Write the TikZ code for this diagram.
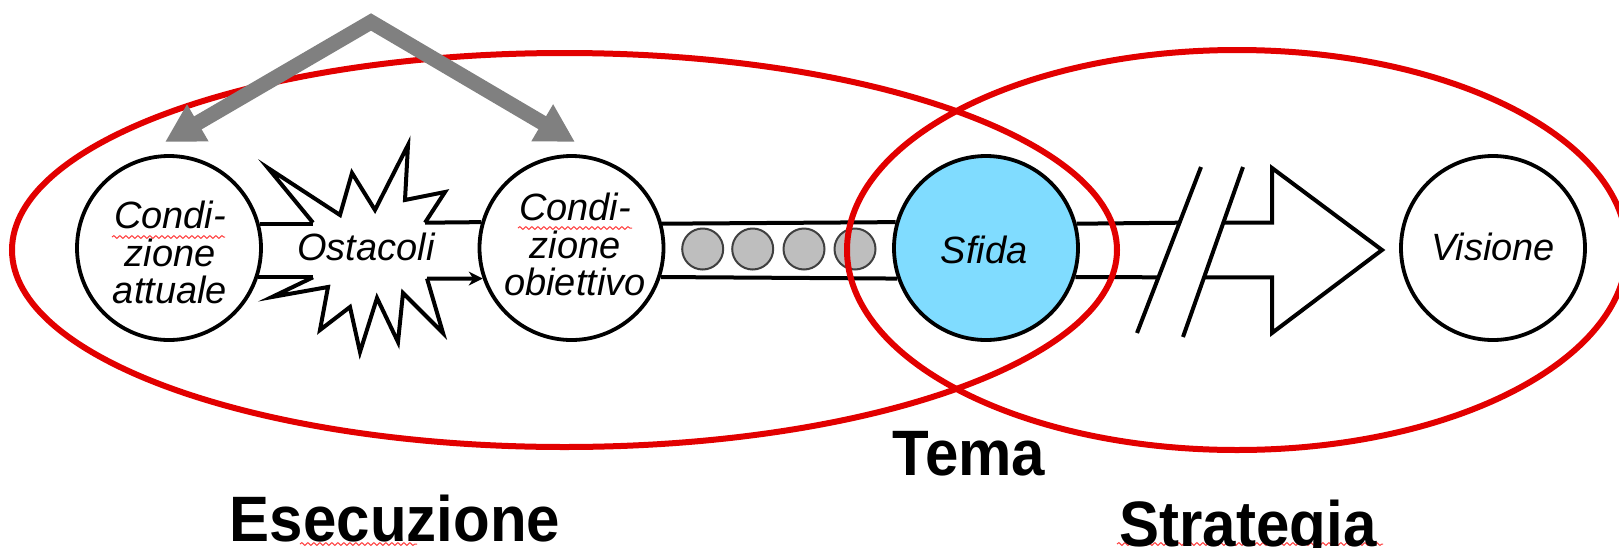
\documentclass[tikz,border=0pt]{standalone}
\usepackage{fontspec}
\setmainfont{Liberation Sans}
\usetikzlibrary{arrows.meta,decorations.pathmorphing}
\definecolor{ered}{RGB}{226,0,0}
\definecolor{sky}{RGB}{128,220,255}
\definecolor{dotgrey}{RGB}{190,190,190}
\definecolor{arrgrey}{RGB}{128,128,128}
\begin{document}
\begin{tikzpicture}[x=0.5pt,y=-0.5pt,
  circ/.style={circle,draw=black,line width=1.9pt,minimum size=92pt,inner sep=0pt,fill=white},
  lab/.style={font=\fontsize{19}{18.75}\selectfont\itshape,inner sep=0pt,align=center},
  big/.style={font=\fontsize{30}{30}\selectfont\bfseries,inner sep=0pt},
  band/.style={line width=2pt},
  dotc/.style={circle,draw=black!75,fill=dotgrey,line width=1pt,minimum size=20.5pt,inner sep=0pt},
  ring/.style={draw=ered,line width=3pt},
  spell/.style={draw=red!75,line width=0.5pt,decorate,decoration={snake,segment length=3pt,amplitude=0.7pt}},
  garrow/.style={draw=arrgrey,line width=7.5pt,{Triangle[length=19pt,width=20pt]}-{Triangle[length=19pt,width=20pt]}}
]
\fill[white] (0,0) rectangle (1619,547);
\useasboundingbox (0,0) rectangle (1619,547);

% circles
\node[circ] (C1) at (169,248) {};
\node[circ] (C2) at (571.5,248) {};
\node[circ,fill=sky] (S) at (986,248) {};
\node[circ] (V) at (1493,248) {};

% dots
\node[dotc] (d1) at (702.7,249) {};
\node[dotc] (d2) at (752.7,249) {};
\node[dotc] (d3) at (804,249) {};
\node[dotc] (d4) at (855,249) {};

% starburst
\coordinate (sbU0) at (313,222.7);
\coordinate (sbU8) at (425,222.7);
\coordinate (sbL0) at (313,277.3);
\coordinate (sbL10) at (427,278.5);
\draw[band,line join=miter] (sbU0) -- (268,168) -- (340,215) -- (352,173) -- (375,210) -- (408,145) -- (405,200) -- (445,192) -- (sbU8);
\draw[band,line join=miter] (sbL0) -- (272,297) -- (328,287) -- (320,330) -- (350,307) -- (360,352) -- (377,298) -- (398,342) -- (403,293) -- (443,333) -- (sbL10);

% bands C1 - C2
\draw[band] (C1.15.6) -- (C1.15.6 -| sbU0);
\draw[band] (C1.-18.2) -- (C1.-18.2 -| sbL0);
\draw[band] (sbU8) -- (C2.164.4);
\draw[band,-{Stealth[length=7pt,width=7pt]}] (sbL10) -- (C2.-161.8);

% bands C2 - Sfida
\draw[band] (C2.15.6) -- (S.164.4);
\draw[band] (C2.-18.2) -- (S.-161.8);

% break and block arrow
\coordinate (s1a) at (1137,333);
\coordinate (s1b) at (1201,167);
\coordinate (s2a) at (1183,337);
\coordinate (s2b) at (1243,167);
\coordinate (u1) at (1179.5,222.7);
\coordinate (l1) at (1158.5,277.3);
\coordinate (u2) at (1223.3,222.7);
\coordinate (l2) at (1204.1,277.3);
\coordinate (tip) at (1382,250);
\draw[band] (S.15.6) -- (u1);
\draw[band] (S.-18.2) -- (l1);
\draw[band] (s1a) -- (s1b);
\draw[band] (s2a) -- (s2b);
\draw[band,line join=miter] (u2) -- (1272,222.7) -- (1272,168) -- (tip) -- (1272,333) -- (1272,277.3) -- (l2);

% labels
\node[lab,anchor=north] (c1lab) at (170,201) {Condi-\\zione\\attuale};
\node[lab,anchor=north] (c2lab) at (575,193) {Condi-\\zione\\obiettivo};
\node[lab,anchor=base] (ost) at (366,260) {Ostacoli};
\node[lab,anchor=base] (sfl) at (984,263) {Sfida};
\node[lab,anchor=base] (vil) at (1493,260) {Visione};

% spell-check squiggles
\draw[spell] (112,237) -- (225,237);
\draw[spell] (518,228) -- (632,228);
\draw[spell] (300,544) -- (417,544);
\draw[spell] (1117,544) -- (1383,544);

% red ellipses
\draw[ring] (564.5,250) ellipse [x radius=276.25pt, y radius=98.5pt];
\draw[ring] (1237,250) ellipse [x radius=195pt, y radius=100pt];

% grey arrows
\coordinate (apex) at (371,22);
\coordinate (gl) at (165,142);
\coordinate (gr) at (575,142);
\draw[garrow] (gl) -- (apex) -- (gr);

% big labels
\node[big,anchor=base] (tema) at (969,475) {\scalebox{1}[1.07]{Tema}};
\node[big,anchor=base] (esec) at (395,541) {\scalebox{1}[1.07]{Esecuzione}};
\node[big,anchor=base] (strat) at (1248,546) {\scalebox{1}[1.07]{Strategia}};
\end{tikzpicture}
\end{document}
